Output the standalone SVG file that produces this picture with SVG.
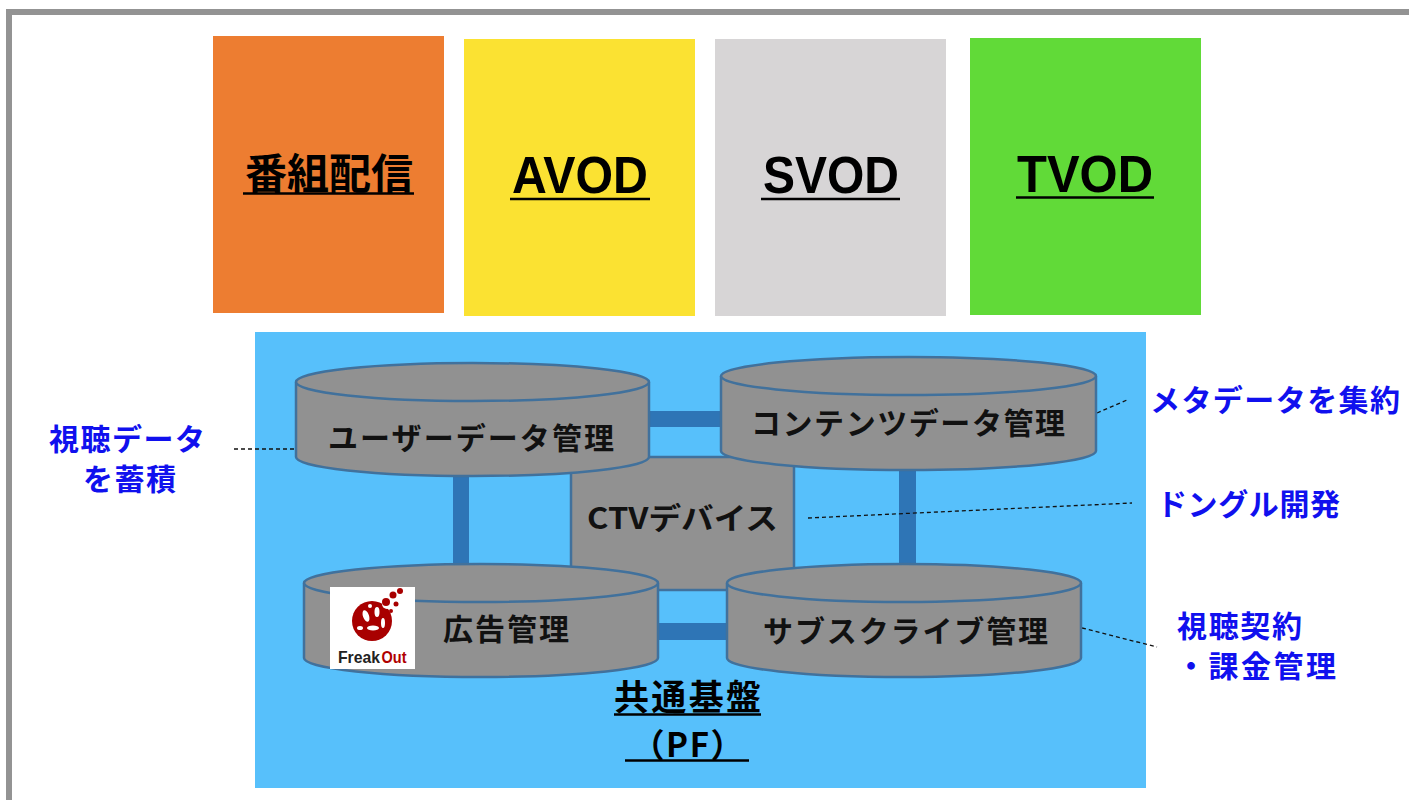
<svg xmlns="http://www.w3.org/2000/svg" width="1409" height="800" viewBox="0 0 1409 800">
<style>
.jp{font-family:"Noto Sans CJK JP","Liberation Sans",sans-serif;font-weight:700}
.node{font-size:30px;fill:#111}
.note{font-size:30px;fill:#1010EE}
.cyl{fill:#919191;stroke:#41719C;stroke-width:2.5}
.conn{fill:#2E75B6}
.dash{stroke:#111;stroke-width:1.3;stroke-dasharray:4 3;fill:none}
.ul{stroke:#000;stroke-width:2.5}
.head{font-family:"Liberation Sans","Noto Sans CJK JP",sans-serif;font-weight:700;font-size:52px;fill:#000}
.logo{font-family:"Liberation Sans Narrow","Liberation Sans",sans-serif;font-weight:700;font-size:17px}
</style>
<rect x="0" y="0" width="1409" height="800" fill="#fff"/>
<rect x="6" y="9" width="1403" height="6" fill="#939393"/>
<rect x="6" y="9" width="6" height="791" fill="#939393"/>

<g id="box-bangumi">
<rect x="213" y="36" width="231" height="277" fill="#ED7D31"/>
<text class="jp" x="329" y="189" font-size="42" text-anchor="middle" textLength="168">番組配信</text>
<line class="ul" x1="243" y1="193.5" x2="414" y2="193.5"/>
</g>
<g id="box-avod">
<rect x="464" y="39" width="231" height="277" fill="#FBE232"/>
<text class="head" x="580" y="193" text-anchor="middle" textLength="136" lengthAdjust="spacingAndGlyphs">AVOD</text>
<line class="ul" x1="510" y1="199" x2="650" y2="199"/>
</g>
<g id="box-svod">
<rect x="715" y="39" width="231" height="277" fill="#D7D5D6"/>
<text class="head" x="831" y="193" text-anchor="middle" textLength="136" lengthAdjust="spacingAndGlyphs">SVOD</text>
<line class="ul" x1="761" y1="199" x2="900" y2="199"/>
</g>
<g id="box-tvod">
<rect x="970" y="38" width="231" height="277" fill="#61DA38"/>
<text class="head" x="1085" y="192" text-anchor="middle" textLength="136" lengthAdjust="spacingAndGlyphs">TVOD</text>
<line class="ul" x1="1016" y1="197.5" x2="1154" y2="197.5"/>
</g>

<g id="platform">
<rect x="255" y="332" width="891" height="456" fill="#57C0FB"/>
<text class="jp" x="687.5" y="710" font-size="35" text-anchor="middle" textLength="147">共通基盤</text>
<line class="ul" x1="614" y1="714.5" x2="761" y2="714.5"/>
<text class="jp" x="687.5" y="757" font-size="33" text-anchor="middle" textLength="112">（PF）</text>
<line class="ul" x1="625" y1="760.5" x2="749" y2="760.5"/>
</g>

<g id="connectors">
<rect class="conn" x="649" y="411" width="72" height="16"/>
<rect class="conn" x="453" y="470" width="16" height="100"/>
<rect class="conn" x="899" y="465" width="17" height="104"/>
<rect class="conn" x="657" y="623" width="72" height="17"/>
<path class="dash" d="M234 449 L296 449"/>
<path class="dash" d="M1097 413 L1127 400"/>
<path class="dash" d="M808 518 L1132 503"/>
<path class="dash" d="M1082 628 L1157 647"/>
</g>

<g id="ctv">
<rect x="571" y="457" width="223" height="133" fill="#919191" stroke="#41719C" stroke-width="2.5"/>
<text class="jp node" x="682.5" y="529" font-size="28" text-anchor="middle" textLength="191" lengthAdjust="spacingAndGlyphs">CTVデバイス</text>
</g>

<g id="user-data">
<path class="cyl" d="M296 382 L296 457 A176.5 19 0 0 0 649 457 L649 382"/>
<ellipse class="cyl" cx="472.5" cy="382" rx="176.5" ry="19"/>
<text class="jp node" x="471" y="449" text-anchor="middle" textLength="286">ユーザーデータ管理</text>
</g>

<g id="content-data">
<path class="cyl" d="M721 376 L721 451 A187.5 19 0 0 0 1096 451 L1096 376"/>
<ellipse class="cyl" cx="908.5" cy="376" rx="187.5" ry="19"/>
<text class="jp node" x="908" y="434" text-anchor="middle" textLength="314">コンテンツデータ管理</text>
</g>

<g id="ad">
<path class="cyl" d="M304 583 L304 658 A177 19 0 0 0 658 658 L658 583"/>
<ellipse class="cyl" cx="481" cy="583" rx="177" ry="19"/>
<text class="jp node" x="506" y="640" text-anchor="middle" textLength="126">広告管理</text>
<g id="freakout-logo">
<rect x="330" y="587" width="85" height="82" fill="#fff"/>
<circle cx="372" cy="621" r="20" fill="#A80000"/>
<ellipse cx="366" cy="616" rx="3" ry="6" fill="#fff" transform="rotate(-20 366 616)"/>
<ellipse cx="377" cy="612" rx="2.5" ry="5" fill="#fff"/>
<ellipse cx="373" cy="628" rx="6" ry="2.5" fill="#fff"/>
<ellipse cx="383" cy="623" rx="2" ry="5" fill="#fff"/>
<ellipse cx="360" cy="628" rx="3" ry="2" fill="#fff"/>
<circle cx="370" cy="606" r="2" fill="#fff"/>
<circle cx="387" cy="604" r="5" fill="#fff"/>
<circle cx="386" cy="602" r="4" fill="#A80000"/>
<circle cx="393" cy="595" r="3.5" fill="#A80000"/>
<circle cx="400" cy="591" r="3" fill="#A80000"/>
<circle cx="396" cy="604" r="2.5" fill="#A80000"/>
<circle cx="391" cy="611" r="2" fill="#A80000"/>
<text class="logo" x="338" y="663" fill="#222" textLength="42" lengthAdjust="spacingAndGlyphs">Freak</text>
<text class="logo" x="381.5" y="663" fill="#B00000" textLength="25" lengthAdjust="spacingAndGlyphs">Out</text>
</g>
</g>

<g id="subscribe">
<path class="cyl" d="M727 583 L727 658 A177 19 0 0 0 1081 658 L1081 583"/>
<ellipse class="cyl" cx="904" cy="583" rx="177" ry="19"/>
<text class="jp node" x="905.5" y="642" text-anchor="middle" textLength="285">サブスクライブ管理</text>
</g>

<g id="notes">
<text class="jp note" x="127" y="450" text-anchor="middle" textLength="156">視聴データ</text>
<text class="jp note" x="129.5" y="490" text-anchor="middle" textLength="93">を蓄積</text>
<text class="jp note" x="1275" y="411" text-anchor="middle" textLength="250">メタデータを集約</text>
<text class="jp note" x="1248.5" y="515" text-anchor="middle" textLength="183">ドングル開発</text>
<text class="jp note" x="1239.5" y="637" text-anchor="middle" textLength="125">視聴契約</text>
<text class="jp note" x="1176" y="677" textLength="160">・課金管理</text>
</g>
</svg>
